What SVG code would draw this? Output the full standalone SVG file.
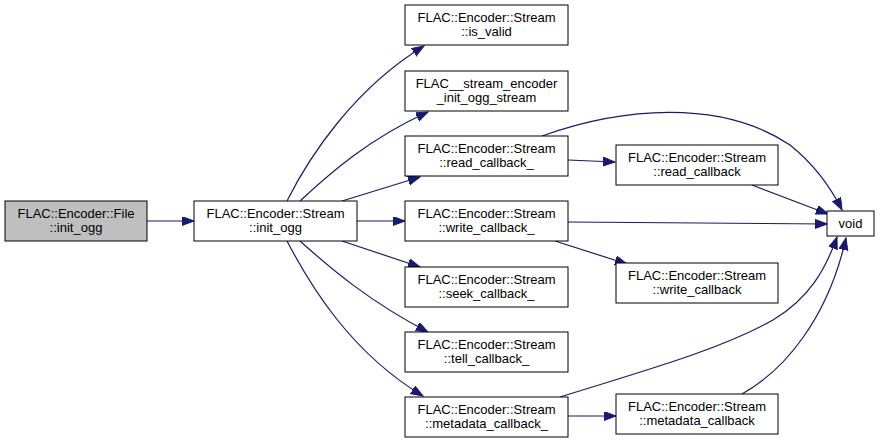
<svg xmlns="http://www.w3.org/2000/svg" width="880" height="443" viewBox="0 0 880 443">
<style>
.n rect{fill:#fff;stroke:#000;stroke-width:1}
.n text{font-family:"Liberation Sans",Arial,sans-serif;font-size:13px;text-anchor:middle;fill:#000}
.e path{fill:none;stroke:#191970;stroke-width:1.2;marker-end:url(#a)}
</style>
<defs>
<marker id="a" markerUnits="userSpaceOnUse" markerWidth="13" markerHeight="10" refX="12" refY="4.5" orient="auto">
<path d="M0,0 L12,4.5 L0,9 z" fill="#191970" stroke="#191970" stroke-width="1"/>
</marker>
</defs>
<rect width="880" height="443" fill="#fff"/>
<g class="e" id="edges">
<path d="M147,221 L194,221"/>
<path d="M287,201 C310,155 355,88 424,46"/>
<path d="M300,201 C330,173 370,138 428,112"/>
<path d="M342,201 L420,177"/>
<path d="M357,221 L405,221"/>
<path d="M342,241 L420,267"/>
<path d="M300,241 C330,268 370,302 428,332"/>
<path d="M287,241 C310,285 350,352 423,396"/>
<path d="M568,160 L615,162"/>
<path d="M542,136 C620,108 720,98 790,145 C815,165 832,190 842,210"/>
<path d="M752,185 L828,214"/>
<path d="M568,222 L827,224"/>
<path d="M555,241 L627,264"/>
<path d="M568,416 L616,416"/>
<path d="M560,397 C640,372 720,350 773,320 C810,298 826,268 837,237"/>
<path d="M742,394 C785,370 828,318 846,238"/>
</g>
<g class="n" id="file_init_ogg"><rect x="5" y="201" width="142" height="40" style="fill:#bfbfbf"/><text x="76" y="217.5">FLAC::Encoder::File</text><text x="76" y="231.5">::init_ogg</text></g>
<g class="n" id="stream_init_ogg"><rect x="194" y="201" width="163" height="40"/><text x="275.5" y="217.5">FLAC::Encoder::Stream</text><text x="275.5" y="231.5">::init_ogg</text></g>
<g class="n" id="is_valid"><rect x="405" y="5" width="163" height="40"/><text x="486.5" y="21.5">FLAC::Encoder::Stream</text><text x="486.5" y="35.5">::is_valid</text></g>
<g class="n" id="stream_encoder"><rect x="405" y="71" width="163" height="40"/><text x="486.5" y="87.5">FLAC__stream_encoder</text><text x="486.5" y="101.5">_init_ogg_stream</text></g>
<g class="n" id="read_callback_"><rect x="405" y="136" width="163" height="40"/><text x="486.5" y="152.5">FLAC::Encoder::Stream</text><text x="486.5" y="166.5">::read_callback_</text></g>
<g class="n" id="write_callback_"><rect x="405" y="201" width="163" height="40"/><text x="486.5" y="217.5">FLAC::Encoder::Stream</text><text x="486.5" y="231.5">::write_callback_</text></g>
<g class="n" id="seek_callback_"><rect x="405" y="267" width="163" height="40"/><text x="486.5" y="283.5">FLAC::Encoder::Stream</text><text x="486.5" y="297.5">::seek_callback_</text></g>
<g class="n" id="tell_callback_"><rect x="405" y="332" width="163" height="40"/><text x="486.5" y="348.5">FLAC::Encoder::Stream</text><text x="486.5" y="362.5">::tell_callback_</text></g>
<g class="n" id="metadata_callback_"><rect x="405" y="397" width="163" height="40"/><text x="486.5" y="413.5">FLAC::Encoder::Stream</text><text x="486.5" y="427.5">::metadata_callback_</text></g>
<g class="n" id="read_callback"><rect x="616" y="145" width="162" height="40"/><text x="697" y="161.5">FLAC::Encoder::Stream</text><text x="697" y="175.5">::read_callback</text></g>
<g class="n" id="write_callback"><rect x="616" y="263" width="162" height="40"/><text x="697" y="279.5">FLAC::Encoder::Stream</text><text x="697" y="293.5">::write_callback</text></g>
<g class="n" id="metadata_callback"><rect x="616" y="394" width="162" height="40"/><text x="697" y="410.5">FLAC::Encoder::Stream</text><text x="697" y="424.5">::metadata_callback</text></g>
<g class="n" id="void"><rect x="827" y="211" width="47" height="25"/><text x="850.5" y="228">void</text></g>
</svg>
